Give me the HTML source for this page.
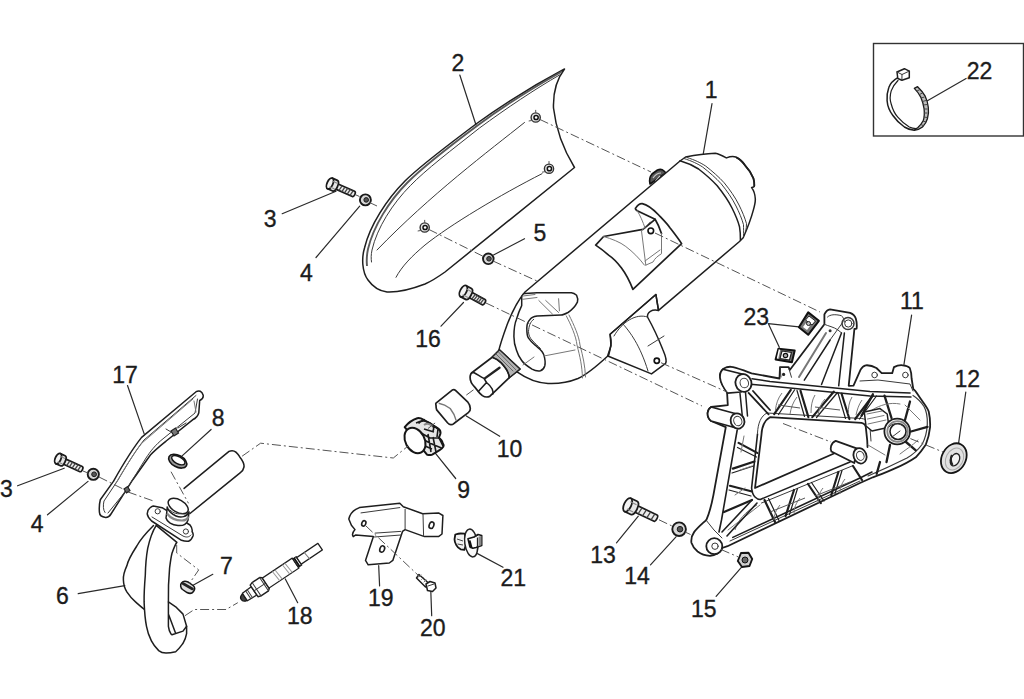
<!DOCTYPE html>
<html><head><meta charset="utf-8">
<style>
html,body{margin:0;padding:0;background:#fff;width:1024px;height:699px;overflow:hidden}
svg{display:block}
text{font-family:"Liberation Sans",sans-serif;font-size:23px;fill:#1c1c1c;stroke:#1c1c1c;stroke-width:0.35}
.o{fill:none;stroke:#1e1e1e;stroke-width:1.5;stroke-linejoin:round;stroke-linecap:round}
.t{fill:none;stroke:#3a3a3a;stroke-width:1;stroke-linejoin:round;stroke-linecap:round}
.g{fill:none;stroke:#777;stroke-width:1;stroke-linejoin:round;stroke-linecap:round}
.w{fill:#fff;stroke:#1e1e1e;stroke-width:1.5;stroke-linejoin:round}
.d{fill:none;stroke:#555;stroke-width:1;stroke-dasharray:9 3 2 3}
.l{fill:none;stroke:#2a2a2a;stroke-width:1.2;stroke-linecap:round}
</style></head>
<body>
<svg width="1024" height="699" viewBox="0 0 1024 699">
<!-- LABELS -->
<g id="labels">
<text x="451.5" y="71">2</text>
<text x="704.7" y="98">1</text>
<text x="966.7" y="79">22</text>
<text x="263.7" y="227">3</text>
<text x="300" y="281">4</text>
<text x="533.5" y="241">5</text>
<text x="415.3" y="347">16</text>
<text x="743.5" y="325">23</text>
<text x="899.9" y="309">11</text>
<text x="954.4" y="386.5">12</text>
<text x="112.3" y="383">17</text>
<text x="211.8" y="426">8</text>
<text x="496.8" y="457">10</text>
<text x="457.3" y="498">9</text>
<text x="0" y="497">3</text>
<text x="30.7" y="531.5">4</text>
<text x="220" y="574">7</text>
<text x="56" y="603.5">6</text>
<text x="286.9" y="623.5">18</text>
<text x="367.9" y="606">19</text>
<text x="420" y="636">20</text>
<text x="500.5" y="586">21</text>
<text x="590.2" y="563">13</text>
<text x="624.2" y="583.5">14</text>
<text x="691" y="616.5">15</text>
</g>
<!-- LEADERS -->
<g id="leaders" class="l">
<path d="M459.8 75 L476 125"/>
<path d="M712 103.7 L703.3 153.7"/>
<path d="M966.1 78.5 L927.4 100.7"/>
<path d="M282.2 213.7 L336 191.2"/>
<path d="M316 257.5 L359.7 206.2"/>
<path d="M524.5 238.7 L493.5 255"/>
<path d="M441 326.2 L463.5 302.5"/>
<path d="M768.3 323.6 L798.9 326.9 M768.5 324 L779.3 347.3"/>
<path d="M911.6 315.2 L903.7 366.2"/>
<path d="M965.8 392 L958.6 443.2"/>
<path d="M127.5 385.5 L144.2 433.9"/>
<path d="M211.1 429.5 L182.1 455.9"/>
<path d="M466.3 415.9 L499.7 436.3"/>
<path d="M434.5 452.1 L455.7 478.5"/>
<path d="M17.6 485.8 L64.2 468.2"/>
<path d="M47.5 514.8 L88 481.4"/>
<path d="M212.8 574.3 L190.8 586.6"/>
<path d="M78.2 593.7 L124.8 585.7"/>
<path d="M297.7 602.7 L285.3 579"/>
<path d="M378.7 565.7 L379.6 585.9"/>
<path d="M430.8 591 L431.7 615.7"/>
<path d="M477.5 553.6 L503 567.3"/>
<path d="M616.5 542.9 L638.3 516.2"/>
<path d="M650.5 564.8 L676 536.8"/>
<path d="M716.1 596.4 L741.6 567.2"/>
</g>
<!-- PART 2 SHIELD -->
<g id="p2">
<path class="o" d="M564.5 69 C540 82 505 103 476 124 C447 146 421 165 405 181 C387 199 370 225 364.5 248 C361.5 258 362 272 368 280 C373 287 379 291 387 292 C398 292.5 412 289 425 284 C432 281 438 277 445 272 L574.5 167.5 C565 152 556 130 553.5 108 C553 93 556 80 564.5 69 Z"/>
<path style="fill:none;stroke:#5a5a5a;stroke-width:1.9" d="M562 71.5 C538 85 505 105 477.5 125.5 C448 147.5 423.5 166.5 407.5 182.5 C389.5 200.5 373.5 226 368 249 C366.5 256 366.5 261 367 266"/>
<path class="t" d="M559.5 75 C536 88.5 506 108.5 479.5 128 C451 150.5 426 169.5 410.5 185.5 C392.5 203.5 377 228 372 250 C371 255 371 258 371.5 262"/>
<path class="t" d="M524.5 122.5 C490 150 430 195 377 250"/>
<path class="t" d="M542 173.7 C500 195 450 225 425 245 C412 256 402 266 396 277.3"/>
<circle cx="535.7" cy="117.5" r="4.6" style="fill:#e4e4e4;stroke:#333;stroke-width:1.4"/><circle cx="536.1" cy="117.5" r="2.1" style="fill:#fff;stroke:#111;stroke-width:1.5"/><path d="M535.7 112.9 l0 -3 M531.7 120.5 l-3 0.5" style="stroke:#555;stroke-width:1;fill:none"/>
<circle cx="549" cy="168.7" r="4.6" style="fill:#e4e4e4;stroke:#333;stroke-width:1.4"/><circle cx="549.4" cy="168.7" r="2.1" style="fill:#fff;stroke:#111;stroke-width:1.5"/><path d="M549.0 164.1 l0 -3 M545.0 171.7 l-3 0.5" style="stroke:#555;stroke-width:1;fill:none"/>
<circle cx="424.7" cy="227.5" r="4.6" style="fill:#e4e4e4;stroke:#333;stroke-width:1.4"/><circle cx="425.1" cy="227.5" r="2.1" style="fill:#fff;stroke:#111;stroke-width:1.5"/><path d="M424.7 222.9 l0 -3 M420.7 230.5 l-3 0.5" style="stroke:#555;stroke-width:1;fill:none"/>
</g>
<!-- BOLT 3 top, WASHER 4 top -->
<g id="b3a"><g transform="translate(331.8 184.3) rotate(23.9)">
<path d="M0 -2.8 L23.7 -2.8 C25.7 -2.8 25.7 2.8 23.7 2.8 L0 2.8 Z" style="fill:#ececec;stroke:#1a1a1a;stroke-width:1.7;stroke-linejoin:round"/>
<path d="M10.0 -2.8 L9.0 2.8 M13.1 -2.8 L12.1 2.8 M16.1 -2.8 L15.1 2.8 M19.1 -2.8 L18.1 2.8 M22.2 -2.8 L21.2 2.8 " style="stroke:#444;stroke-width:1.3;fill:none"/>
<path d="M-2.0 -5.8 L3.5 -5.8 C7.0 -5.8 7.0 5.8 3.5 5.8 L-2.0 5.8 Z" style="fill:#e6e6e6;stroke:#1a1a1a;stroke-width:1.8;stroke-linejoin:round"/>
<ellipse cx="-2.0" cy="0" rx="2.9" ry="5.8" style="fill:#f4f4f4;stroke:#1a1a1a;stroke-width:1.8"/>
<path d="M-1.0 -3.2 L4.5 -3.2 M-1.0 3.2 L4.5 3.2" style="stroke:#888;stroke-width:1.1;fill:none"/>
</g></g><g><circle cx="365.4" cy="199.9" r="5.5" style="fill:#d8d8d8;stroke:#1a1a1a;stroke-width:1.9"/><circle cx="366.2" cy="199.9" r="2.3" style="fill:#555;stroke:#1a1a1a;stroke-width:1"/></g>
<!-- WASHER 5 -->
<circle cx="488.3" cy="258.8" r="5.3" style="fill:#d8d8d8;stroke:#1a1a1a;stroke-width:1.9"/><circle cx="489" cy="258.8" r="2.3" style="fill:#555;stroke:#1a1a1a;stroke-width:1"/>
<!-- BOLT 16 -->
<g id="b16"><g transform="translate(465.3 292.2) rotate(28.2)">
<path d="M0 -3.0 L20.8 -3.0 C22.8 -3.0 22.8 3.0 20.8 3.0 L0 3.0 Z" style="fill:#ececec;stroke:#1a1a1a;stroke-width:1.7;stroke-linejoin:round"/>
<path d="M9.9 -3.0 L8.9 3.0 M12.3 -3.0 L11.3 3.0 M14.8 -3.0 L13.8 3.0 M17.2 -3.0 L16.2 3.0 M19.6 -3.0 L18.6 3.0 " style="stroke:#444;stroke-width:1.3;fill:none"/>
<path d="M-2.2 -6.2 L3.7 -6.2 C7.4 -6.2 7.4 6.2 3.7 6.2 L-2.2 6.2 Z" style="fill:#e6e6e6;stroke:#1a1a1a;stroke-width:1.8;stroke-linejoin:round"/>
<ellipse cx="-2.2" cy="0" rx="3.1" ry="6.2" style="fill:#f4f4f4;stroke:#1a1a1a;stroke-width:1.8"/>
<path d="M-1.2 -3.4 L4.7 -3.4 M-1.2 3.4 L4.7 3.4" style="stroke:#888;stroke-width:1.1;fill:none"/>
</g></g>
<!-- PART 1 MUFFLER -->
<g id="p1">
<!-- nut behind -->
<path d="M650 184 C649 180 649.5 177 652 174 L657.5 170 C660 169 662.5 169.5 664 171 L666 173 Z" style="fill:#555;stroke:#111;stroke-width:1.6;stroke-linejoin:round"/>
<path d="M653 178 C655 175 658 173 661 173 M655.5 181 L660 176" style="fill:none;stroke:#ccc;stroke-width:1.2"/>
<!-- body -->
<path class="w" d="M680 161 L525 292 C519 299 512 312 507 325 C503 336 500 345 498.7 351 L517.4 372.2 C527 379 537 383 548 383.5 C558 384 568 382.5 578 378.5 C588 374 597 366 607.5 356.3 L611 345.8 L610.1 334.3 L655.9 294.5 L658.5 310.4 L739.5 241.5 L743.2 237.8 C747.5 228 751 219 753.4 209.9 C754.8 205 755.5 202 755.3 198.8 C755 194 753.5 190 751.6 187.6 C753.5 187.5 754.5 186.5 754.3 185.8 C754.5 183 754 180.5 753.4 178.3 C751.5 173.5 748.5 169 745 165.3 C742 161.5 739 158.5 735.8 157 C733 156 730 156.5 726.5 157.9 C723 156 719.5 154 715.3 153.2 C705 153.5 695 155 685.6 157 Z"/>
<!-- end boss -->
<path class="o" style="stroke-width:1.8" d="M737 157.8 C740 159 743 162 745 165.3 C748.5 169 751.5 173.5 753.4 178.3 C754 180.5 754.5 183 754.3 185.8"/>
<!-- cap junction curves -->
<path class="o" d="M680 160.7 C688 163 694 166 698.6 169 C705 174 712 180 717.2 185.8 C723 193 728 200 732 208 C735 214 738 221 739.5 226.7 C740.2 231 740.5 236 740.4 239.7"/>
<path class="t" d="M684 158.5 C692 161 698 164 702.6 167 C709 172 716 178 721.2 183.8 C727 191 732 198 736 206 C739 212 742 219 743.5 224.7 C743.5 228 743.8 232 743.5 236.5"/>
<path class="t" d="M687 157.5 C695 160 701 163 705.6 166 C712 171 719 177 724.2 182.8 C730 190 735 197 739 205 C742 211 745 218 746.5 223.7 C746.5 226 746.2 229 745.8 231"/>
<!-- upper window -->
<path class="w" style="stroke-width:1.7" d="M595.7 245.1 L603.6 236.5 L642.9 229.3 L655.1 219.3 L637.2 210.7 C635.5 209.5 635 208.5 635.8 207.9 C637.5 205 640 203.5 642.2 203.6 C647 204.5 653 209 658.7 215 C663 219.5 667 223.5 670.1 227.9 C674 233 678 238 681.6 243.6 L632.9 289.4 C630 282 626 274 621.5 268 C617 262 613 258 608.6 255.1 C604 251 600 248 595.7 245.1 Z"/>
<path class="o" style="stroke-width:1.7" d="M655.1 219.3 C658 224 660 229 661.5 233.6"/>
<path class="g" d="M603.6 236.5 C612 239 620 242 625.8 246.5 C633 252 639 258 644.4 265.1 M641.5 230.8 L645.8 265.1 M661.5 233.6 L661.5 253.7 C658 256 655 258 653 262 L645.8 265.1 M641.5 230.8 L650 222 M645 261 L660 250"/>
<path class="g" d="M637.2 210.7 C640 215 643 222 645 228"/>
<circle cx="650.8" cy="230.8" r="2.8" style="fill:#fff;stroke:#111;stroke-width:1.6"/>
<!-- lower bracket -->
<path class="o" d="M610.1 334.3 L655.9 294.5 L658.5 310.4 C652 309 647 312 647.5 317 C652 325 659 340 663 350 C666 357 667 361 665.6 363.3 L651.5 373.9 L608.4 356.3 C610 350 611.5 345 611 340 Z" fill="#fff"/>
<path class="t" d="M614 336 C622 322 636 313 647.5 317 M623 324 C630 332 640 345 648 371 M648 346 L664 336"/>
<circle cx="656.8" cy="360.7" r="2.6" style="fill:#fff;stroke:#111;stroke-width:1.7"/>
<!-- hook bracket at inlet -->
<path class="w" d="M521.7 297 C522 294.5 524 293.5 525 293.6 L537.1 292.7 L571.4 292.7 C574 293 576.6 295.3 576.6 295.3 C578 298 578 300 577.4 302.2 C575 307 572 310 568 312.5 C565 314 563 315 561.1 315 L537.1 315.9 C533 316.5 531 317.5 530.2 319.3 C527.5 322 526.8 325 526.8 327.9 C526.8 333 527 336 528.5 338.2 C531 342 534 344 537.1 346.8 C540 349 543 352 544 355.4 C545 359 545.5 363 544.8 365.7 C544 368.5 542.5 370 540.5 370.8 C537 371.5 534.5 370.5 532 369.1 C527 366 524 364 521.7 360.5 C519 357 517.5 353.5 516.5 350.2 C514.5 345 513.9 341 513.9 336.5 C513.9 330 514.5 324 516.5 319.3 C518 314 520 309 521.7 305.6 Z"/>
<path class="t" d="M533.7 319.3 C530 322 529 326 528.5 331.4 C528.5 335 530 338 532 340 C535 343.5 538 346 540.5 348.5"/>
<path class="g" d="M523 296 L535 294.5 M522.5 299.3 L537 297.5 M538.8 300.5 L552.6 314.2 M545.7 300.5 L558.6 312.5 M558.6 298.7 L559.4 310.8"/>
<path class="g" d="M566.3 315.9 C571 325 576 336 577 345 C580 357 582 365 582.5 378 M569 315 C574 325 579 336 580 345 C583 357 585 365 585.5 377"/>
<path class="g" d="M523 365 L534 357 M544 356 L575 350"/>
<!-- inlet pipe -->
<path class="w" style="stroke-width:1.7" d="M499.5 349.9 L520 369 L509.3 377.6 L489.7 396.4 C487 397.5 484.5 397 482.4 395.6 C480.5 394 479 392.5 478.3 391.5 L475 387.4 C472.5 384.5 471 382.5 471 381.7 C470 379.5 470 377.5 470.2 376 C470.5 374.5 471 373.5 471.8 372.7 L492.2 357.2 Z"/>
<path d="M499.5 349.9 L492.2 357.2 C496 358.5 499 360.5 501.2 362.9 C504 366 506.5 369 507.7 371.9 C508.7 374 509.2 376 509.3 377.6 L520 369 Z" style="fill:#b4b4b4;stroke:#222;stroke-width:1.2;stroke-linejoin:round"/>
<path class="g" d="M496 354 L513 371 M498.5 352 L516 370" style="stroke:#666"/>
<path class="o" style="stroke-width:1.6" d="M492.2 357.2 C496 358.5 499 360.5 501.2 362.9 C504 366 506.5 369 507.7 371.9 C508.7 374 509.2 376 509.3 377.6"/>
<path class="o" style="stroke-width:1.6" d="M471.8 372.7 L474.2 372.7 C477 374 480 376.5 484 378.4 L486.5 382.5 L478.3 391.5 M486.5 382.5 C489 384.5 491 386.5 492.2 389 C493 391 493.2 393 492.8 394"/>
<path d="M484.8 378.4 L499.5 367.8" style="stroke:#222;stroke-width:2.4;stroke-linecap:round"/>
</g>
<!-- PART 10 -->
<g id="p10">
<path class="w" style="stroke-width:1.7" d="M436 405.2 C435.8 404.5 435.5 404 436 403.2 L452.2 390.1 C453.5 389.5 454.5 389.5 455.5 390.4 L467.6 401.8 C469 403.5 470.2 406 470.3 408.5 C470.5 410.5 469.5 411.8 468.3 412.6 L454.2 423.3 C453 424.3 452 424.8 450.8 424.7 C449.5 424.7 448.5 423.8 447.5 422.7 L436.7 409.9 C436.2 408.5 436 406.5 436 405.2 Z"/>
<path style="fill:none;stroke:#777;stroke-width:1.4" d="M438.7 403.2 C443 404 447 406 450.2 408.5 C453 412 455 416 456.2 420.6"/>
</g>
<!-- PART 9 -->
<g id="p9">
<path d="M404.7 427.1 C408 423 413 419.5 417.3 418.2 C419.5 417.8 421.5 418.5 423.3 419.7 L432.2 424.9 C435 426.5 437 427.5 438.2 428.6 C440 430 440.8 432 440.4 433.8 C440 435 439.5 436.5 438.9 437.5 C440.5 439 442 441 442.6 442.7 C443.5 444 443.8 445.5 443.4 446.5 C442.5 448 441 449.5 439.6 450.2 L432.2 454.6 C430.5 455.2 428.5 455.2 427 454.6 Z" style="fill:#e6e6e6;stroke:#151515;stroke-width:2;stroke-linejoin:round"/>
<path d="M416 423 L425 419.5 M418.5 423.5 C421 420 426 420.5 430 423 C433 425 434.5 428 433 431 M430 423 L438 429 L437 437 M424 429 L434 432 M421 433 L430 438 L439 438 L443 446 M424 440 L433 444.5 L441.5 448 M425 446 L432 449 M428 434 L431 452 M433 437 L436 452" style="fill:none;stroke:#1a1a1a;stroke-width:1.6;stroke-linejoin:round"/>
<path d="M424 425 C427 423 430 424 432 426" style="fill:none;stroke:#888;stroke-width:2"/>
<ellipse cx="415" cy="440.5" rx="9.6" ry="13.4" transform="rotate(-28 415 440.5)" style="fill:#fff;stroke:#151515;stroke-width:2"/>
</g>
<!-- PART 17 -->
<g id="p17">
<path class="o" d="M196.1 391.7 C199 390 202 391 203.2 395.2 C203.5 397.5 202 399.5 199.7 400.5 L198.8 412.8 C198 416 195.5 418.5 192.6 419.8 L166.2 441 C160 446 155 450 150.4 455 L132.8 479.7 L111 514 C109.5 516.5 107.5 517.5 105.6 517.4 C102 517 99.5 515 99.4 512.1 C99 507 99.5 503 100.3 499.8 L113.4 481.4 C121 468 130 452 141.6 437.4 Z"/>
<path class="t" d="M196 395.5 L144 440 C136 450 128 463 118 480 L104 501 C103 505 103 510 105 512.5 M197.5 399 L195 413 L164 438 C155 445 150 452 146 458 L125 492 L108 513"/>
<path class="g" d="M193 399 L142 443 C134 453 126 466 116 483 M194 401 L196 412"/>
<path d="M171 431 L175.5 428 L178.5 433 L174 436 Z" style="fill:#777;stroke:#222;stroke-width:1.2"/><path class="t" d="M166 429 L171 432 M178 428 L186 423"/>
<path d="M124 489 L127.5 486.5 L130 490.5 L126.5 493 Z" style="fill:#666;stroke:#222;stroke-width:1.2"/>
</g>
<!-- PART 8 O-RING -->
<ellipse cx="177.7" cy="461.2" rx="9.8" ry="5.8" transform="rotate(28 177.7 461.2)" style="fill:#999;stroke:#151515;stroke-width:1.6"/>
<ellipse cx="178.3" cy="460.2" rx="7.3" ry="3.6" transform="rotate(28 178.3 460.2)" style="fill:#fff;stroke:#151515;stroke-width:1.4"/>
<!-- BOLT 3 left, WASHER 4 left -->
<g id="b3b"><g transform="translate(59.8 459.4) rotate(24.5)">
<path d="M0 -2.8 L23.4 -2.8 C25.4 -2.8 25.4 2.8 23.4 2.8 L0 2.8 Z" style="fill:#ececec;stroke:#1a1a1a;stroke-width:1.7;stroke-linejoin:round"/>
<path d="M9.8 -2.8 L8.8 2.8 M12.8 -2.8 L11.8 2.8 M15.8 -2.8 L14.8 2.8 M18.9 -2.8 L17.9 2.8 M21.9 -2.8 L20.9 2.8 " style="stroke:#444;stroke-width:1.3;fill:none"/>
<path d="M-1.9 -5.5 L3.3 -5.5 C6.6 -5.5 6.6 5.5 3.3 5.5 L-1.9 5.5 Z" style="fill:#e6e6e6;stroke:#1a1a1a;stroke-width:1.8;stroke-linejoin:round"/>
<ellipse cx="-1.9" cy="0" rx="2.8" ry="5.5" style="fill:#f4f4f4;stroke:#1a1a1a;stroke-width:1.8"/>
<path d="M-0.9 -3.0 L4.3 -3.0 M-0.9 3.0 L4.3 3.0" style="stroke:#888;stroke-width:1.1;fill:none"/>
</g></g><g><circle cx="93.3" cy="474.3" r="5.6" style="fill:#d8d8d8;stroke:#1a1a1a;stroke-width:1.9"/><circle cx="94.1" cy="474.3" r="2.4" style="fill:#555;stroke:#1a1a1a;stroke-width:1"/></g>
<!-- PART 6 PIPE -->
<g id="p6">
<path class="o" d="M184.1 488.4 L229 451.4 C233 449.5 237 452 239.6 456.7 C243 461 244.5 464 244 467 C243.5 469.5 242 471.5 240.4 472.6 L190 513.5"/>
<path class="o" d="M153.5 525.5 C146 533 140 540 136.8 546 C131 555 128 560 127 565.4 C124 572 123 576 123.4 580 C123.5 585 125 589 127 592.2 C129.5 596 132 599 135.5 601.9 C138.5 604.5 141 607 144.1 609.2"/>
<path class="w" d="M156.2 525.3 C152 532 149.5 540 147.7 548.4 C146 558 145.5 566 145.3 575.2 C144.5 585 144 593 144.1 601.9 C144.5 612 145 619 146.5 626.3 C147.5 632 149 636 151.4 640.9 C153.5 645 156 648 158.7 650.6 C161 652.5 163.5 653 166 653 C169.5 653 172.5 652.5 175.7 651.8 C179 649 181 646 183 643.3 C185 640 186 637 186.6 633.6 L186.6 626.3 L183 614.1 L175.7 606.8 L168.4 601.9 C168.2 590 168.5 580 169.6 567.9 C170.5 561 171 557 172 553.3 C173.5 549 175 545 176.9 542.3 Z"/>
<path class="o" d="M168.4 601.9 L168.4 626.3 C168.8 629.5 169.5 631.5 170.8 633.6 C171 634 171.5 634.5 172 634.8 L183 631.1 L186.6 626.3 M168.4 614.1 L175.7 633.6"/>
<path class="w" d="M148 510.4 C150 507 153 506 153.3 506 L162.1 507.7 L190 525 C192 527.5 192.5 529.5 192.1 531.5 C193 533 193.5 534.5 193 535.9 C192 538.5 190.5 540.5 188.5 541.2 C185.5 541.5 183.5 541 181.5 540.3 L151.6 521 C149 518.5 147.5 516 147.2 513.9 Z"/>
<path class="t" d="M152 517 L183 536 C186 537.5 189 537.5 191 535"/>
<circle class="t" cx="157.7" cy="511.3" r="2.6"/><circle class="t" cx="185.9" cy="531.5" r="2.6"/>
<path class="w" d="M167.2 507 C167 512 166.5 515 166 518 C167 522 172 525 178 525.5 C183 526 186.5 524 187.9 520.4 L189.1 511.9 C187 517 181 518 176 516 C171.5 514 168.5 511 167.2 507 Z"/>
<path style="fill:none;stroke:#888;stroke-width:2.2" d="M167 513.5 C170 517.5 176 520.5 182 520.5 C185 520.5 187.5 519 188.5 516.5"/>
<ellipse class="w" cx="178.2" cy="506" rx="11" ry="6.2" transform="rotate(30 178.2 506)"/>
<path class="t" d="M170 510 C173 513.5 178 514.5 183 513.5"/>
</g>
<!-- PART 7 -->
<g id="p7">
<path d="M181.5 583 C183 581 185.5 580.8 188 582 L193 585.5 C194.8 587 195 589.5 193.5 591.5 C192 593.5 189.5 593.8 187 592.5 L182.5 589.5 C180.5 588 180 585 181.5 583 Z" style="fill:#ddd;stroke:#151515;stroke-width:1.5"/>
<path d="M183 583.5 L192.5 589" style="stroke:#222;stroke-width:2.6;stroke-linecap:round"/>
</g>
<!-- PART 18 SENSOR -->
<g id="p18" transform="translate(245.75 596.45) rotate(-33.8)">
<path d="M-1 -4 C-4 -3.5 -5.5 -1.5 -5.5 0 C-5.5 1.5 -4 3.5 -1 4 Z" style="fill:#444;stroke:#111;stroke-width:1.3"/>
<path class="w" style="stroke-width:1.3" d="M-1 -4.5 L10 -5 L10 5 L-1 4.5 Z"/>
<path class="t" d="M3 -4.7 L3 4.7 M5 -4.8 L5 4.8"/>
<path class="w" style="stroke-width:1.4" d="M10 -7 L13 -8 L22 -8 L24 -6.5 L24 6.5 L22 8 L13 8 L10 7 Z"/>
<path class="t" d="M13 -8 L13 8 M22 -8 L22 8 M10 0 L24 0"/>
<path class="w" style="stroke-width:1.3" d="M24 -6 L60 -6 L60 6 L24 6 Z"/>
<path style="fill:none;stroke:#999;stroke-width:1" d="M36 -6 L37 6 M39 -6 L40 6 M48 -6 L49 6 M51 -6 L52 6"/>
<path class="w" style="stroke-width:1.3" d="M60 -5 L64 -5 L64 5 L60 5 Z"/>
<path style="fill:none;stroke:#111;stroke-width:1.8" d="M61.5 -5 L61.5 5"/>
<path class="w" style="stroke-width:1.3" d="M64 -4 L89.5 -4 L89.5 4 L64 4 Z"/>
<path class="g" d="M73 -4 L74 4"/>
</g>
<!-- PART 19 BRACKET -->
<g id="p19">
<path class="w" d="M348.8 519 C350 514 353 511 355.8 509.4 L359.4 507.6 L399.8 503.2 L403.3 506.7 L422.7 513.8 L438.5 512.9 L442.9 515.5 L442 534 L438.5 536.6 L424.5 536.6 L405.1 529.6 L402.5 531.4 L392.8 560.4 L389.3 563 L368.2 564.8 L365.5 560.4 L373.4 536.6 L355.8 534.9 L353.2 536.6 C352 535 352 533 355 529.6 L351.4 525.2 Z"/>
<path class="t" d="M361 512.9 L399.8 507.6 M375.2 533.1 L400.7 531.4 M374.5 537 L401 535 M405.1 509.4 L405.1 529.6 M423 514 L423.6 536.6"/>
<ellipse class="o" style="stroke-width:1.6" cx="363.8" cy="523.4" rx="2" ry="2.8" transform="rotate(20 363.8 523.4)"/>
<ellipse class="o" style="stroke-width:1.6" cx="431.5" cy="525.2" rx="2.3" ry="3.3" transform="rotate(20 431.5 525.2)"/>
<ellipse class="o" style="stroke-width:1.6" cx="382.2" cy="549" rx="2.3" ry="3.3" transform="rotate(20 382.2 549)"/>
</g>
<!-- PART 20 BOLT -->
<g id="p20">
<path class="o" d="M419 574.5 L429 583.5 L425.5 587 L416.5 578 Z" fill="#fff"/>
<path class="g" d="M419 577 l2 -2 M421.5 579.5 l2 -2 M424 582 l2 -2"/>
<path class="w" d="M426 584 L430 581.5 L435 583 L436 588 L432.5 591.5 L427.5 590.5 Z"/>
<path class="t" d="M428 586 L434 584"/>
</g>
<!-- PART 21 CLIP -->
<g id="p21">
<path d="M455.3 534.5 C457 534 459 533.5 460.6 533.5 L464.8 533.7 L466 545 L464.3 549.9 L460.6 549.3 C458.5 548 457 546.5 456.3 545.1 C455 543 454.5 541 454.5 539.3 Z" style="fill:#f2f2f2;stroke:#151515;stroke-width:1.8;stroke-linejoin:round"/>
<path d="M457 539 L463 541 M457.5 544 L463 545" style="stroke:#444;stroke-width:1;fill:none"/>
<ellipse cx="471.2" cy="543" rx="6.4" ry="14" transform="rotate(-8 471.2 543)" style="fill:#fafafa;stroke:#222;stroke-width:1.5"/>
<path d="M468 538.8 L474 537 L478 534.5 L481.7 535.5 L481.7 545.6 L476 547.5 L472.8 548.3 L470 547 Z" style="fill:#fff;stroke:#151515;stroke-width:1.6;stroke-linejoin:round"/>
<path d="M469.5 540.5 L471.5 548" style="stroke:#111;stroke-width:2.2"/>
<path d="M477.5 537.5 L477.5 547 M474 537 L478 535" style="stroke:#222;stroke-width:1.3;fill:none"/>
<path d="M478.5 536.5 L481.5 536 L481.5 545 L478.5 546.5 Z" style="fill:#888;stroke:none"/>
</g>
<!-- PART 13 BOLT, 14 WASHER, 15 NUT -->
<g id="b13"><g transform="translate(630.0 506.0) rotate(25.3)">
<path d="M0 -3.5 L28.3 -3.5 C30.3 -3.5 30.3 3.5 28.3 3.5 L0 3.5 Z" style="fill:#ececec;stroke:#1a1a1a;stroke-width:1.7;stroke-linejoin:round"/>
<path d="M11.7 -3.5 L10.7 3.5 M16.5 -3.5 L15.5 3.5 M21.2 -3.5 L20.2 3.5 M25.9 -3.5 L24.9 3.5 " style="stroke:#444;stroke-width:1.3;fill:none"/>
<path d="M-2.6 -7.3 L4.4 -7.3 C8.8 -7.3 8.8 7.3 4.4 7.3 L-2.6 7.3 Z" style="fill:#e6e6e6;stroke:#1a1a1a;stroke-width:1.8;stroke-linejoin:round"/>
<ellipse cx="-2.6" cy="0" rx="3.6" ry="7.3" style="fill:#f4f4f4;stroke:#1a1a1a;stroke-width:1.8"/>
<path d="M-1.6 -4.0 L5.4 -4.0 M-1.6 4.0 L5.4 4.0" style="stroke:#888;stroke-width:1.1;fill:none"/>
</g></g>
<g><circle cx="679.1" cy="529.2" r="6.8" style="fill:#d8d8d8;stroke:#1a1a1a;stroke-width:1.9"/><circle cx="680" cy="529.2" r="2.8" style="fill:#555;stroke:#1a1a1a;stroke-width:1"/></g>
<g><path d="M741 553 L748.5 552.8 L752.2 559 L749.5 566 L742 567 L737.8 561 Z" style="fill:#d0d0d0;stroke:#151515;stroke-width:1.9;stroke-linejoin:round"/><circle cx="745" cy="560" r="3" style="fill:#666;stroke:#111;stroke-width:1"/></g>
<!-- PART 12 WASHER -->
<g id="p12">
<ellipse cx="953.8" cy="458.2" rx="12" ry="15.6" transform="rotate(28 953.8 458.2)" style="fill:#e2e2e2;stroke:#151515;stroke-width:1.8"/>
<ellipse cx="954.5" cy="459" rx="8.5" ry="11.5" transform="rotate(28 954.5 459)" style="fill:none;stroke:#aaa;stroke-width:1"/>
<ellipse cx="955" cy="459.7" rx="4.3" ry="6.5" transform="rotate(25 955 459.7)" style="fill:#f4f4f4;stroke:#222;stroke-width:1.3"/>
<path d="M952 455 C950.5 458 950.5 462 952.5 465" style="fill:none;stroke:#222;stroke-width:2.2"/>
</g>
<!-- PART 11 FRAME -->
<g id="p11">
<path class="w" style="stroke-width:1.8" d="M719.9 375 C721 369 726 366.5 731 366.8 C736 367 742 370 751.6 373.3 L779.5 378.5 L780 367.2 L788.6 367.2 L789.8 370 L824.4 324.3 L824.4 314.3 C826 311 828 309.5 830 309.3 L850.1 312.9 C853 314 855 316 855.8 318.6 C856.8 322 857 325.5 856.6 328.6 L854.4 329 L848.7 385.8 L853.5 385.6 L860.6 369.7 C862 367 864 365.5 865.8 365.3 C870 365 873 366 876.4 368 L881.7 373.2 L892.2 373.2 L894 367.1 C897 365.5 900 365 902.8 365.3 C906 365.5 908.5 366.5 909.8 368 C911 371 911.5 375 911.6 378.5 L913.3 389.1 C916 391 918.5 396 921.6 400 C925 405 927.5 408 928.7 411.5 C930 417 930.3 422 930.1 427.2 C929.5 433 928 439 925.9 444.4 C922.5 449.5 919.5 453.5 915.8 457.3 C909 462 902 465.5 894.4 468.7 C887 472 880 475 872.9 477.3 L860 483 L727.5 546.2 L722.2 548 C721 550.5 719.5 552.5 717.8 553.3 C715 555 712.5 556 709.9 555.9 C705 555.5 701 554 697.6 551.5 C694.5 549 692.5 546 691.4 542.7 C691 539 692 535 694.1 532.1 C698 527 702.5 523.5 706.4 519.8 C709 514 711.5 505 713.4 495.2 L725.8 427.2 L711.1 421 C708.5 419 707.5 416 707.6 413.1 C708 410 709.5 408 711.1 407 L727.8 405.2 L727 391.1 C724 387.5 721.5 384 720.8 380.6 Z"/>
<!-- arm -->
<path class="o" d="M830.1 340 L804.3 380.1 M841.5 332.9 L821.5 384.4 M844.4 332.9 L838.7 385.8"/>
<path class="g" style="stroke-width:2" d="M826 333 L799 377"/>
<path class="t" d="M827.5 317 C830 314.5 835 314 841.5 315.7 C843 317 844 319 844.4 322 M824.4 324.3 C828 326 834 327 838 330 L841.5 332.9 M843 322 L830 340"/>
<circle class="t" style="stroke-width:1.5" cx="848" cy="323.5" r="6"/><circle class="t" cx="848.3" cy="323.5" r="3.6"/>
<circle cx="830.1" cy="330.8" r="1.5" fill="#333"/>
<path class="t" d="M780 367.2 L781 377 M789 369 L791.5 377.3"/>
<circle cx="783.6" cy="374.4" r="1.6" fill="#222"/>
<!-- lug -->
<circle class="t" cx="874.6" cy="375" r="2.8"/><circle class="t" cx="905.4" cy="375" r="2.8"/>
<path class="t" d="M860 381 L878 380 L910 384 L913 391"/>
<!-- top rail -->
<path class="o" d="M752 378.7 L770 381.5 L870 391.6 L910.1 392.9"/>
<path class="o" d="M748 384 L770 386 L870 395.9 L911 397"/>
<!-- opening -->
<path class="o" style="stroke-width:1.8" d="M867.5 447 L867.2 440.1 L865.8 427.2 C865.5 425 864 423.5 861.5 422.9 L770 417.2 C765 420 762 426 761.5 434.3 L755 488 L834 453.5"/>
<path class="t" d="M757.5 433 C758 423 761 416 767 413 L861.5 418.5 C866.5 419 869.5 422 870 427.5 L871 441"/>
<path class="o" style="stroke-width:1.6" d="M757.5 434 L751.6 488 C752 492 753 495 755 497 C757 499 759 499.5 760.2 499.5 L850 462"/>
<path class="t" d="M761.5 503 L852 466"/>
<!-- upper truss ribs -->
<path class="o" style="stroke-width:2.2" d="M790.8 389.8 L774.2 414.2 M800.5 390.7 L808.4 417.1 M833.75 391.7 L812.3 417.1 M841.6 393.7 L849.4 419 M872.8 395.6 L855.2 419"/>
<path class="o" style="stroke-width:1.2" d="M794.5 390 L778.5 414.5 M797 390.5 L804.5 416.5 M837.5 392.5 L816.5 417.5 M838 393 L845.5 418.5 M876.5 396 L859.5 419"/>
<path style="fill:none;stroke:#777;stroke-width:1" d="M782 393 C778 398 776 404 775.5 410 M815 395 C812 400 811 406 811 413 M852 397 C849 402 848 408 848.5 414 M797 397 C793 402 791 408 790 414 M825 399 C821 403 819 409 818 415 M862 400 C859 404 857 410 856 415"/>
<path style="fill:none;stroke:#555;stroke-width:1" d="M778 405 L800 408 M815 407 L840 410"/>
<!-- left boss -->
<path class="w" style="stroke-width:1.7" d="M722.9 369.2 L744 374.5 L741 392 L727.5 393.2 C723.5 388 720.5 383 720 377.2 C720 373.5 721 371 722.9 369.2 Z"/>
<ellipse class="w" style="stroke-width:1.8" cx="743.5" cy="383" rx="8" ry="9" transform="rotate(-15 743.5 383)"/>
<ellipse class="t" cx="744.3" cy="383" rx="4.2" ry="4.8" transform="rotate(-15 744.3 383)"/>
<path class="o" style="stroke-width:1.5" d="M740 393.5 L742.5 418 M745.5 392.5 L747.5 416"/>
<path class="o" style="stroke-width:1.8" d="M748.6 392.9 L768.6 414.3 M753 391 L770 410"/>
<!-- left pin -->
<path class="w" style="stroke-width:1.8" d="M711.1 407 L735 413.5 L738 428.5 L711.1 421 C708.5 419 707.5 416 707.6 413.1 C708 410 709.5 408 711.1 407 Z"/>
<ellipse class="w" style="stroke-width:1.8" cx="737.5" cy="421" rx="6.8" ry="7.8" transform="rotate(-20 737.5 421)"/>
<ellipse class="t" cx="737.8" cy="421" rx="4" ry="4.8" transform="rotate(-20 737.8 421)"/>
<!-- left rail inner -->
<path class="o" style="stroke-width:1.6" d="M737.2 430 L721.5 520 L719 532"/>
<path class="o" style="stroke-width:2.2" d="M738.6 442.9 L757.2 452.9 M732.9 468.6 L754.4 461.5 M730 485.8 L752 491.5 M724 512 L752 500"/><path class="o" style="stroke-width:1.2" d="M737.5 447.5 L756.5 457 M732 473 L753.5 466 M729 490 L751 496"/>
<path class="g" d="M744 436 L741 452 M740 470 L752 466 M735 495 L745 488 M728 530 L760 505"/>
<!-- lower rail -->
<path class="o" style="stroke-width:1.6" d="M732.8 537.4 L860 478 L872 472"/>
<path class="t" d="M730 541 L860 481"/>
<!-- lower truss ribs -->
<path class="o" style="stroke-width:2.2" d="M764.5 500 L775 522 M794 490 L785.6 516 M808 484 L820.8 503 M838.4 472 L831.3 495 M853 466 L862 480"/>
<path class="o" style="stroke-width:1.2" d="M768.5 498.5 L779 520.5 M797.5 488.5 L789.5 514.5 M811.5 482.5 L824 501 M842 470.5 L835 493.5"/>
<path style="fill:none;stroke:#777;stroke-width:1" d="M757 505 C745 512 738 520 735 530 M780 505 C776 510 774 515 774 520 M800 498 C796 503 794 508 794 513 M823 488 C819 493 818 498 818 503 M845 479 C841 484 840 489 840 494"/>
<path style="fill:none;stroke:#555;stroke-width:1" d="M770 512 L805 498 M815 496 L850 482"/>
<!-- right pin -->
<path class="w" style="stroke-width:1.8" d="M835.7 440.8 L857.2 448.7 L854.3 463 L831.4 451.5 C830 449 830.5 443 835.7 440.8 Z"/>
<ellipse class="w" style="stroke-width:1.8" cx="860" cy="455.8" rx="6.4" ry="7.9" transform="rotate(-20 860 455.8)"/>
<ellipse class="t" cx="860.3" cy="455.8" rx="3.7" ry="4.6" transform="rotate(-20 860.3 455.8)"/>
<!-- right end -->
<path class="t" style="stroke-width:1.2" d="M913 395.5 C917 398 921 402 924 406.5 C926.5 411 927.5 418 927.3 424 C927 432 925 439 922 444.5 C918 450 913 454.5 907 458 C895 464 882 470 868 476"/>
<path class="o" style="stroke-width:2.3" d="M884.5 395.6 L891.5 418 M910 401.5 L905 420 M927.5 426.9 L911 431.5 M915.8 450.3 L906 442 M886.5 462 L890 445 M876.7 473.75 L880 462 M872.9 394.3 L861.5 415.8"/>
<path class="g" d="M872 410 C880 405 890 402 900 404 M900 454 C905 450 912 446 918 440 M868 445 L885 455 M905 405 L920 420"/>
<path class="w" style="stroke-width:1.5" d="M864.3 412 L880 408.6 L887.2 414 L889 427.2 L872 431 L866 426 Z"/>
<path class="g" d="M867 414 L882 411 M867.5 419 L884 415.5 M868 424 L886 420"/>
<circle class="w" style="stroke-width:1.8" cx="897.2" cy="431.5" r="12.8"/>
<circle style="fill:none;stroke:#888;stroke-width:1.8" cx="897.6" cy="431.5" r="10.3"/>
<circle class="o" style="stroke-width:1.6" cx="898" cy="431.5" r="8"/>
<path class="t" d="M889 427 C892 423 899 422 904 427 M892 437 L900 431"/>
<path class="o" style="stroke-width:1.6" d="M722 532 L752 500 M727 536 L757 503"/>
<!-- foot boss -->
<circle class="w" style="stroke-width:1.8" cx="714.3" cy="546.2" r="8"/><circle class="t" cx="715" cy="546.2" r="3.2"/>
<path class="t" d="M706 520 L714 530 L722 538"/>
</g>
<!-- CLIPS 23 -->
<g id="p23">
<path d="M808.2 312.4 L818.9 320.8 L808.2 334.8 L798.9 327.3 Z" style="fill:#777;stroke:#111;stroke-width:2;stroke-linejoin:round"/>
<path d="M809 316 L815.5 321 L812 325 L805.5 320 Z" style="fill:#fff;stroke:#222;stroke-width:1"/>
<path d="M803 327 L807 330 L810 326 L806 323 Z" style="fill:#fff;stroke:none"/>
<circle cx="808.5" cy="323.5" r="2" style="fill:#bbb;stroke:#222;stroke-width:1"/>
<path d="M778.4 348.7 L794.7 350.6 L791.9 362.2 L775.6 359.4 Z" style="fill:#777;stroke:#111;stroke-width:2;stroke-linejoin:round"/>
<path d="M782 351 L791.5 352.5 L789.5 360 L780 358.5 Z" style="fill:#fff;stroke:#222;stroke-width:1.2"/>
<circle cx="785.5" cy="355.5" r="2.2" style="fill:#aaa;stroke:#111;stroke-width:1.2"/>
<path d="M779.5 349.5 L777.5 358.5" style="stroke:#fff;stroke-width:1.5"/>
</g>
<!-- BAND 22 -->
<g id="p22">
<path class="o" d="M897.8 77.7 C893 80.5 890 84 888.8 87.6 C887.2 92 886.8 96 887.1 100.7 C887.5 106 889.5 111 892.9 115.5 C896 120 900 124 904.4 127 C907.5 129 910.5 130 914.3 130.3"/>
<path class="o" style="stroke-width:1.2" d="M898 80.5 C895 83.5 892.5 87 891.2 90.9 C890 95 889.8 100 891.2 104 C892.5 109 894.5 113.5 897.8 117.2 C901 121 905 124.5 909.3 127 C911.5 128 913.5 128.5 915.9 128.7"/>
<path d="M914.3 88.4 L917.6 86.7 C920.5 89.5 923 92.5 925 95.8 C927 100 928 104 928.3 107.3 C928.8 111 928.5 115 927.4 118.8 C926.5 122 924.5 125 922.5 127 C920 129 917.5 130 914.3 130.3 L915.9 128.7 C917 128.5 918 128 918.4 127 C920.5 125 922 123 923.3 120.5 C924.5 117 924.5 113 924.1 108.9 C923.5 105 922.5 101 920.9 97.4 C919 94 917 91 914.3 88.4 Z" style="fill:#bdbdbd;stroke:#1a1a1a;stroke-width:1.3;stroke-linejoin:round"/>
<path d="M917 91 l3 -1.5 M919.5 94.5 l3 -1.5 M921 98 l3.5 -1 M922.5 101.5 l3.5 -1 M923.5 105 l3.5 -0.5 M924 109 l3.5 0 M924 113 l3.5 0 M923.8 117 l3.5 0.5 M922.8 121 l3.3 1 M921 124.5 l3 1.5" style="stroke:#444;stroke-width:1;fill:none"/>
<path class="w" style="stroke-width:1.5" d="M897 72 L904.4 68.7 L909.3 71.1 L909.3 77.7 L901.9 80.2 L897.8 78.5 Z"/>
<path class="t" d="M897 72 L902 74.5 L909.3 71.1 M902 74.5 L901.9 80.2"/>
</g>
<!-- DASHED LINES -->
<g id="dashes" class="d">
<path d="M369.5 202.5 L377 206"/>
<path d="M355 194.5 L359.5 196.5"/>
<path d="M83 471 L88 473"/>
<path d="M429 229.5 L483.5 256.5 M493 261 L537 281"/>
<path d="M540 119.5 L651 172"/>
<path d="M486 303 L702 406"/>
<path d="M655 233 L820 312"/>
<path d="M661 362.7 L727 392 M783 423.5 L831 442"/>
<path d="M910.4 438.6 L943 452"/>
<path d="M659 519.8 L672 526 M685 532 L690.5 534.5"/>
<path d="M721 549.5 L738 556.8"/>
<path d="M242.1 456.2 L260.6 443.2 L393.3 458 L408.1 446"/>
<path d="M171 471.7 L188.5 503.3"/>
<path d="M466.3 395.1 L476 388"/>
<path d="M428 428.5 L437 421.5"/>
<path d="M99 477 L123 489 M128 492 L155.1 501.6"/>
<path d="M176.7 545 L176.7 553 L198.7 569.9 L189 584"/>
<path d="M185 615.7 L194.3 609.5 L226 609.5 L237.8 602.7"/>
<path d="M366 526 L419.2 576.2"/>
</g>
<!-- BOX 22 -->
<rect x="873.5" y="43.5" width="150" height="92.5" fill="none" stroke="#333" stroke-width="1.4"/>
</svg>
</body></html>
